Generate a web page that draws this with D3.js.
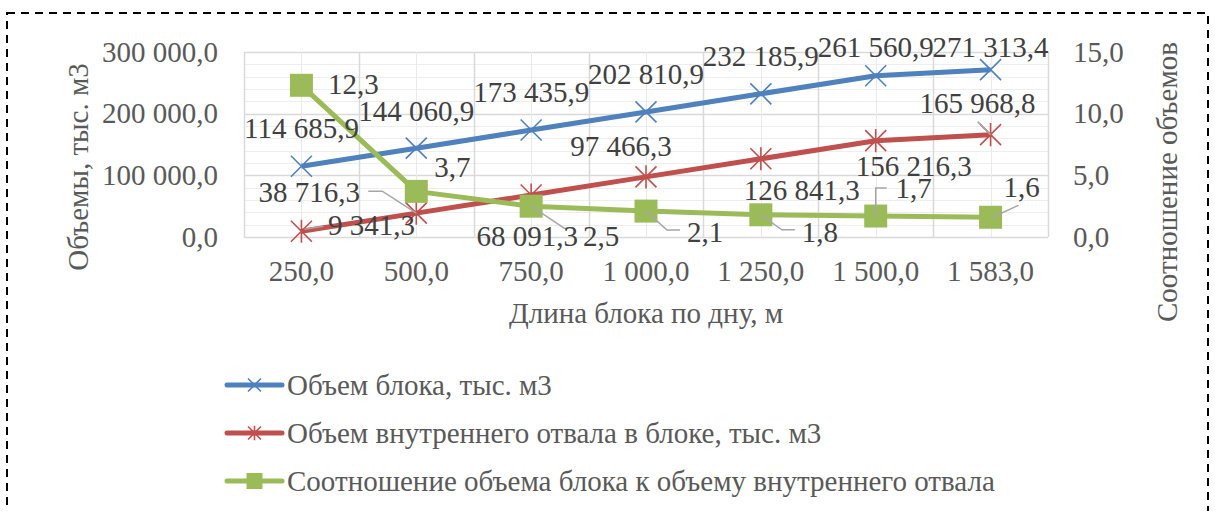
<!DOCTYPE html>
<meta charset="utf-8">
<style>
body { margin: 0; background: #fff; }
svg text { font-family: "Liberation Serif", "DejaVu Serif", "Times New Roman", serif !important; }
.axis text { fill: #595959; font-size: 29px; }
.axis path, .axis line { display: none; }
.lbl { fill: #404040; font-size: 29px; }
.title { fill: #595959; font-size: 29px; }
</style>
<svg id="chart" width="1215" height="511" font-family="Liberation Serif, DejaVu Serif, serif"></svg>
<script src="https://d3js.org/d3.v7.min.js"></script>
<script>

// data
var lengths = [250, 500, 750, 1000, 1250, 1500, 1583];
var blockVolume = [114685.9, 144060.9, 173435.9, 202810.9, 232185.9, 261560.9, 271313.4];
var dumpVolume = [9341.3, 38716.3, 68091.3, 97466.3, 126841.3, 156216.3, 165968.8];
var ratio = [12.3, 3.7, 2.5, 2.1, 1.8, 1.7, 1.6];
var leftTicks = [0, 100000, 200000, 300000];
var rightTicks = [0, 5, 10, 15];
var seriesNames = ["Объем блока, тыс. м3",
                   "Объем внутреннего отвала в блоке, тыс. м3",
                   "Соотношение объема блока к объему внутреннего отвала"];

// label placement (offset of label centre from its marker) and leader lines
var blueLabelPos = [[0,-38],[0,-37],[0,-38],[0,-38],[0,-38],[0,-29],[0,-23]];
var redLabelPos = [[70,-6],[-107,-21],[-4,41],[-25,-31],[41,31],[38,25],[-13,-32]];
var greenLabelPos = [[52,-1],[36,-25],[70,30],[59,21],[59,17],[38,-28],[31,-30]];
var redLeaders = [[[3,-2],[22,-5]], [[-48,-22],[-34,-22],[0,0]], null, null, null, null, [[-13,-13],[0,0]]];
var greenLeaders = [null, null, [[0,0],[36,24]], [[0,0],[21,19],[34,19]], [[0,0],[21,15],[34,15]], [[0,0],[0,-28],[11,-28]], [[2,0],[28,-12]]];

var colors = ["#4f81bd", "#c0504d", "#9bbb59"];

var ru = d3.formatLocale({decimal: ",", thousands: "\u00a0", grouping: [3], currency: ["", ""]});
var fmt = ru.format(",.1f");

var plot = {left: 244, right: 1048, top: 52, bottom: 237};

var svg = d3.select("#chart");

svg.append("rect")
    .attr("x", 7).attr("y", 13)
    .attr("width", 1201).attr("height", 620)
    .attr("fill", "none")
    .attr("stroke", "#000")
    .attr("stroke-width", 2)
    .attr("stroke-dasharray", "8,6");

var x = d3.scaleBand().domain(lengths).range([plot.left, plot.right]).padding(0);
var y = d3.scaleLinear().domain([0, 300000]).range([plot.bottom, plot.top]);
var y2 = d3.scaleLinear().domain([0, 15]).range([plot.bottom, plot.top]);
var cx = function (d, i) { return x(lengths[i]) + x.bandwidth() / 2; };

// grid
var grid = svg.append("g");
grid.selectAll(".hminor")
    .data(d3.range(0, 300001, 20000))
  .enter().append("line")
    .attr("x1", plot.left).attr("x2", plot.right)
    .attr("y1", function (d) { return Math.round(y(d)) + 0.5; })
    .attr("y2", function (d) { return Math.round(y(d)) + 0.5; })
    .attr("stroke", function (d) { return d % 100000 === 0 ? "#d9d9d9" : "#eeeeee"; })
    .attr("stroke-width", function (d) { return d % 100000 === 0 ? 1.5 : 1; });

grid.selectAll(".v")
    .data(d3.range(0, lengths.length * 2 + 1))
  .enter().append("line")
    .attr("x1", function (k) { return Math.round(plot.left + k * x.bandwidth() / 2) + 0.5; })
    .attr("x2", function (k) { return Math.round(plot.left + k * x.bandwidth() / 2) + 0.5; })
    .attr("y1", plot.top).attr("y2", plot.bottom)
    .attr("stroke", function (k) { return k % 2 === 0 ? "#d9d9d9" : "#eaeaea"; })
    .attr("stroke-width", function (k) { return k % 2 === 0 ? 1.5 : 1; });

// axes
svg.append("g")
    .attr("class", "axis")
    .attr("transform", "translate(" + plot.left + ",0)")
    .call(d3.axisLeft(y).tickValues(leftTicks).tickFormat(fmt).tickSize(0).tickPadding(26));

svg.append("g")
    .attr("class", "axis")
    .attr("transform", "translate(" + plot.right + ",0)")
    .call(d3.axisRight(y2).tickValues(rightTicks).tickFormat(fmt).tickSize(0).tickPadding(25));

svg.append("g")
    .attr("class", "axis")
    .attr("transform", "translate(0," + plot.bottom + ")")
    .call(d3.axisBottom(x).tickFormat(fmt).tickSize(0).tickPadding(23));

svg.selectAll(".axis").attr("font-family", null);

// axis titles
svg.append("text").attr("class", "title")
    .attr("transform", "translate(88,167) rotate(-90)")
    .attr("text-anchor", "middle")
    .text("Объемы, тыс. м3");

svg.append("text").attr("class", "title")
    .attr("transform", "translate(1177,182) rotate(-90)")
    .attr("text-anchor", "middle")
    .text("Соотношение объемов");

svg.append("text").attr("class", "title")
    .attr("x", (plot.left + plot.right) / 2).attr("y", 323)
    .attr("text-anchor", "middle")
    .text("Длина блока по дну, м");

// markers
function markerPath(type, r) {
  if (type === 0) return "M" + -r + "," + -r + "L" + r + "," + r + "M" + -r + "," + r + "L" + r + "," + -r;
  if (type === 1) return "M" + -r + "," + -r + "L" + r + "," + r + "M" + -r + "," + r + "L" + r + "," + -r +
                         "M0," + (-r * 1.1) + "L0," + (r * 1.1);
  return "M" + -r + "," + -r + "H" + r + "V" + r + "H" + -r + "Z";
}

var series = [
  {values: blockVolume, scale: y, type: 0, pos: blueLabelPos, leaders: null},
  {values: dumpVolume, scale: y, type: 1, pos: redLabelPos, leaders: redLeaders},
  {values: ratio, scale: y2, type: 2, pos: greenLabelPos, leaders: greenLeaders}
];

var line = d3.line();

series.forEach(function (s, si) {
  var pts = s.values.map(function (v, i) { return [cx(v, i), s.scale(v)]; });
  s.pts = pts;
  svg.append("path")
      .attr("d", line(pts))
      .attr("fill", "none")
      .attr("stroke", colors[si])
      .attr("stroke-width", 5)
      .attr("stroke-linejoin", "round");
  svg.selectAll(".m" + si)
      .data(pts)
    .enter().append("path")
      .attr("transform", function (p) { return "translate(" + p[0] + "," + p[1] + ")"; })
      .attr("d", markerPath(s.type, s.type === 2 ? 11.5 : 10.5))
      .attr("fill", s.type === 2 ? colors[si] : "none")
      .attr("stroke", colors[si])
      .attr("stroke-width", s.type === 2 ? 0 : 1.6);
});

// leader lines
series.forEach(function (s) {
  if (!s.leaders) return;
  s.leaders.forEach(function (l, i) {
    if (!l) return;
    var p = s.pts[i];
    svg.append("path")
        .attr("d", line(l.map(function (q) { return [p[0] + q[0], p[1] + q[1]]; })))
        .attr("fill", "none")
        .attr("stroke", "#a6a6a6")
        .attr("stroke-width", 1.5);
  });
});

// data labels
series.forEach(function (s) {
  svg.selectAll(null)
      .data(s.values)
    .enter().append("text")
      .attr("class", "lbl")
      .attr("text-anchor", "middle")
      .attr("x", function (v, i) { return s.pts[i][0] + s.pos[i][0]; })
      .attr("y", function (v, i) { return s.pts[i][1] + s.pos[i][1]; })
      .attr("dy", "0.35em")
      .text(function (v) { return fmt(v); });
});

// legend
var legend = svg.append("g").selectAll("g")
    .data(seriesNames)
  .enter().append("g")
    .attr("transform", function (d, i) { return "translate(227," + (385 + i * 48) + ")"; });

legend.append("line")
    .attr("x1", 0).attr("x2", 55)
    .attr("stroke", function (d, i) { return colors[i]; })
    .attr("stroke-width", 5)
    .attr("stroke-linecap", "round");

legend.append("path")
    .attr("transform", "translate(27.5,0)")
    .attr("d", function (d, i) { return markerPath(i, i === 2 ? 8 : 6.5); })
    .attr("fill", function (d, i) { return i === 2 ? colors[i] : "none"; })
    .attr("stroke", function (d, i) { return colors[i]; })
    .attr("stroke-width", function (d, i) { return i === 2 ? 0 : 1.6; });

legend.append("text")
    .attr("class", "title")
    .attr("x", 60)
    .attr("dy", "0.35em")
    .text(function (d) { return d; });

</script>
